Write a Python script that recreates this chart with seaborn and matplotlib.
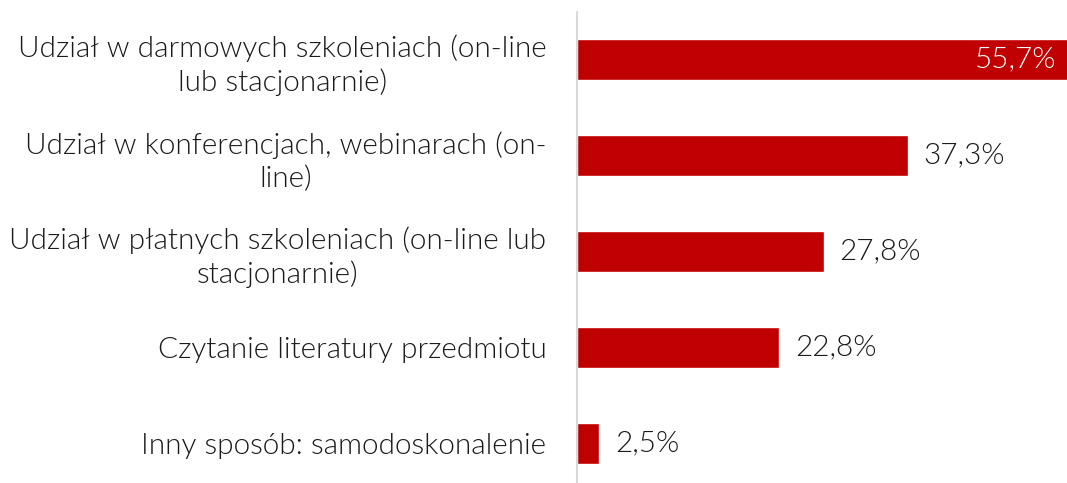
import matplotlib
matplotlib.use("Agg")
import matplotlib.pyplot as plt
import seaborn as sns
import pandas as pd

categories = [
    "Udział w darmowych szkoleniach (on-line\nlub stacjonarnie)",
    "Udział w konferencjach, webinarach (on-\nline)",
    "Udział w płatnych szkoleniach (on-line lub\nstacjonarnie)",
    "Czytanie literatury przedmiotu",
    "Inny sposób: samodoskonalenie",
]
values = [55.7, 37.3, 27.8, 22.8, 2.5]
value_labels = ["55,7%", "37,3%", "27,8%", "22,8%", "2,5%"]

sns.set_theme(style="white")
plt.rcParams["font.family"] = ["Lato", "DejaVu Sans"]

df = pd.DataFrame({"cat": categories, "val": values})

W, H = 1067, 483
FS = 21.4
WT = 300
PX = 8.87  # pixels per unit
fig = plt.figure(figsize=(W / 100, H / 100), dpi=100)
ax = fig.add_axes([577 / W, 0, 1 - 577 / W, 1])

sns.barplot(data=df, x="val", y="cat", orient="h", color="#C00000",
            saturation=1, width=0.43, ax=ax)

ax.set_xlim(0, (W - 577) / PX)
ax.set_ylim((483 - 59.5) / 96, -59.5 / 96)
ax.set_xlabel("")
ax.set_ylabel("")
ax.set_xticks([])
for s in ["top", "right", "bottom"]:
    ax.spines[s].set_visible(False)
ax.spines["left"].set_color("#D9D9D9")
ax.spines["left"].set_linewidth(1.5)
ax.spines["left"].set_bounds((483 - 59.5) / 96, (12 - 59.5) / 96)

ax.set_yticks(range(len(categories)))
ax.set_yticklabels(categories, fontsize=FS, color="#1A1A1A",
                   multialignment="center", fontweight=WT, linespacing=1.3)
ax.tick_params(axis="y", length=0, pad=22)

for i, (v, lab) in enumerate(zip(values, value_labels)):
    if i == 0:
        ax.text(54.1, i, lab, ha="right", va="center", color="white",
                fontsize=FS, fontweight=WT)
    else:
        ax.text(v + 1.8, i, lab, ha="left", va="center", color="#1A1A1A",
                fontsize=FS, fontweight=WT)

fig.savefig("out.png", dpi=100)
